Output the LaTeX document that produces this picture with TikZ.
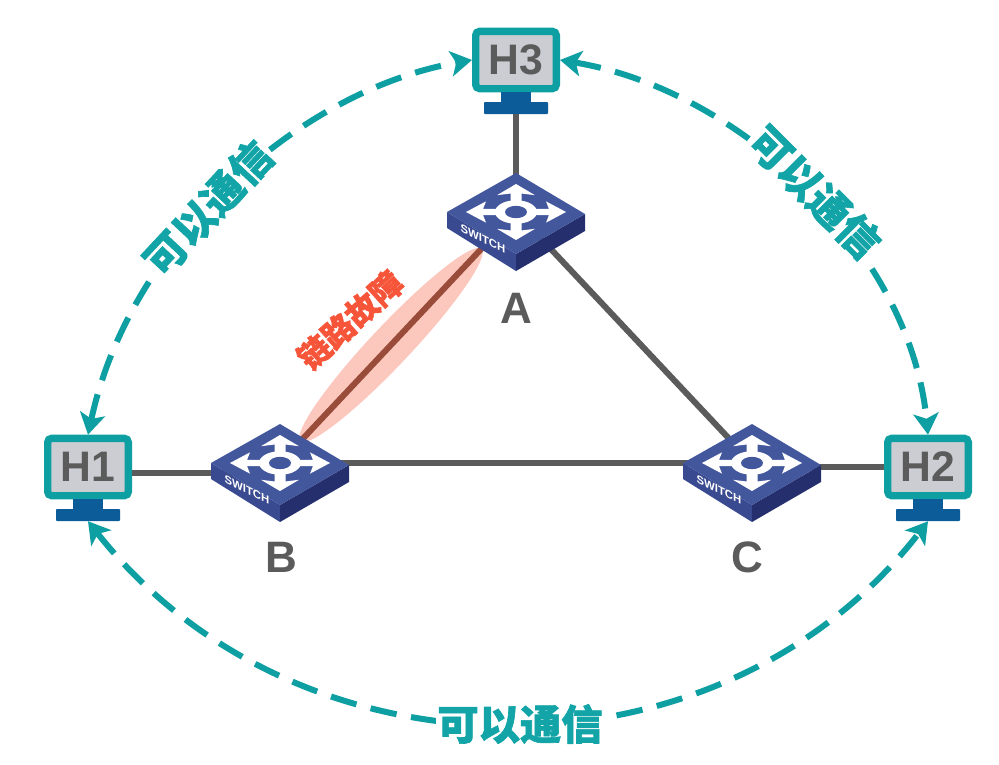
\documentclass[tikz,border=0pt]{standalone}
\usepackage{fontspec}
\setmainfont{Liberation Sans}
\newfontfamily\cjk[BoldFeatures={FakeBold=1.6}]{Noto Sans CJK SC}
\usetikzlibrary{arrows.meta}
\definecolor{teal1}{HTML}{0E9FA3}
\definecolor{tealtxt}{HTML}{12A4A6}
\definecolor{standblue}{HTML}{0B5C99}
\definecolor{screen}{HTML}{CBCDD3}
\definecolor{link}{HTML}{5B5B5B}
\definecolor{fault}{HTML}{9A4C3A}
\definecolor{halo}{HTML}{FCC8BE}
\definecolor{redtxt}{HTML}{F6553A}
\definecolor{topface}{HTML}{43579C}
\definecolor{leftface}{HTML}{3A4A90}
\definecolor{rightface}{HTML}{262F6E}
\tikzset{
  px/.style={x=.75pt,y=-.75pt},
  linkline/.style={draw=link,line width=4.5pt},
  talk/.style={draw=teal1,line width=4.5pt,dash pattern=on 20pt off 11pt,
    {Stealth[length=16pt,width=19pt,inset=4pt]}-{Stealth[length=16pt,width=19pt,inset=4pt]}},
  talklabel/.style={fill=white,inner sep=1pt,text=tealtxt,font=\cjk\bfseries\fontsize{31}{31}\selectfont},
  monitorbox/.style={draw=teal1,line width=5.5pt,fill=screen,rounded corners=3pt,
    minimum width=60.5pt,minimum height=43pt,inner sep=0pt,text=link,font=\bfseries\fontsize{32}{32}\selectfont},
  standtop/.style={fill=standblue,draw=none,minimum width=22pt,minimum height=7pt,inner sep=0pt},
  standbase/.style={fill=standblue,draw=none,rounded corners=.7pt,minimum width=48pt,minimum height=9pt,inner sep=0pt},
  routerlabel/.style={text=link,font=\bfseries\fontsize{33}{33}\selectfont,inner sep=0pt},
  swtext/.style={text=white,font=\bfseries\fontsize{8.5}{8.5}\selectfont,inner sep=0pt,yslant=-.5},
  swarrow/.style={fill=white,draw=none},
}
% #1 name, #2 x of apex, #3 y of apex
\newcommand{\switchicon}[3]{%
  \begin{scope}[shift={(#2,#3)}]
    \fill[leftface] (-69,39)--(0,81)--(0,98)--(-69,55)--cycle;
    \fill[rightface] (69,41)--(0,81)--(0,98)--(69,58)--cycle;
    \fill[topface] (0,0)--(69,41)--(0,81)--(-69,39)--cycle;
    \begin{scope}[shift={(0,39)},yscale=.56]
      \foreach \a in {0,90,180,270}{
        \fill[swarrow,rotate=\a] (14,-5.5)--(33,-5.5)--(30,-19)--(50,0)--(30,19)--(33,5.5)--(14,5.5)--cycle;
      }
      \fill[white] (0,0) circle (21);
      \fill[topface] (0,0) circle (11);
    \end{scope}
    \node[swtext] (#1sw) at (-33,66) {SWITCH};
  \end{scope}%
}
% #1 name, #2 text, #3 x centre, #4 y centre of the screen
\newcommand{\monitor}[4]{%
  \node[monitorbox] (#1) at (#3,#4) {#2};
  \node[standtop] (#1t) at (#3,#4+37) {};
  \node[standbase] (#1b) at (#3,#4+48) {};
}
\begin{document}
\begin{tikzpicture}[px]
\useasboundingbox (0,0) rectangle (999,764);
\fill[white] (0,0) rectangle (999,764);

% named places
\node[inner sep=0pt,minimum size=1pt] (A) at (516,212) {};
\node[inner sep=0pt,minimum size=1pt] (B) at (280,463) {};
\node[inner sep=0pt,minimum size=1pt] (C) at (752,463) {};

% fault halo
\fill[halo,rotate around={46.7:(391,345)}] (391,345) ellipse (132 and 20);

\monitor{H3}{H3}{516}{60}
\monitor{H1}{H1}{88}{467}
\monitor{H2}{H2}{928}{467}

% links
\draw[linkline] (H3b.south) -- (A);
\draw[linkline] (A) -- (C);
\draw[linkline] (B) -- (C);
\draw[linkline] ([yshift=-4.5pt]H1.east) -- ([yshift=-4.5pt]H1.east -| B);
\draw[linkline] (H2.west) -- (C |- H2.west);
\draw[draw=fault,line width=4.5pt] (A) -- (B);

% switches
\switchicon{swA}{516}{173}
\switchicon{swB}{280}{424}
\switchicon{swC}{752}{424}

\node[routerlabel] (la) at (516,308) {A};
\node[routerlabel] (lb) at (281,557) {B};
\node[routerlabel] (lc) at (747,557) {C};

% communication arcs
\draw[talk] (H1.north) .. controls (130,240) and (300,90) .. (H3.west);
\draw[talk] (H3.east) .. controls (740,90) and (910,250) .. (H2.north);
\draw[talk] (H1b.south) .. controls (300,790) and (720,790) .. (H2b.south);

\node[talklabel,rotate=47] (t1) at (208,208) {可以通信};
\node[talklabel,rotate=-45] (t2) at (815,192) {可以通信};
\node[talklabel] (t3) at (520,724) {可以通信};

\node[text=redtxt,inner sep=0pt,rotate=42,font=\cjk\bfseries\fontsize{24}{24}\selectfont] (fl) at (350,320) {链路故障};
\end{tikzpicture}
\end{document}
